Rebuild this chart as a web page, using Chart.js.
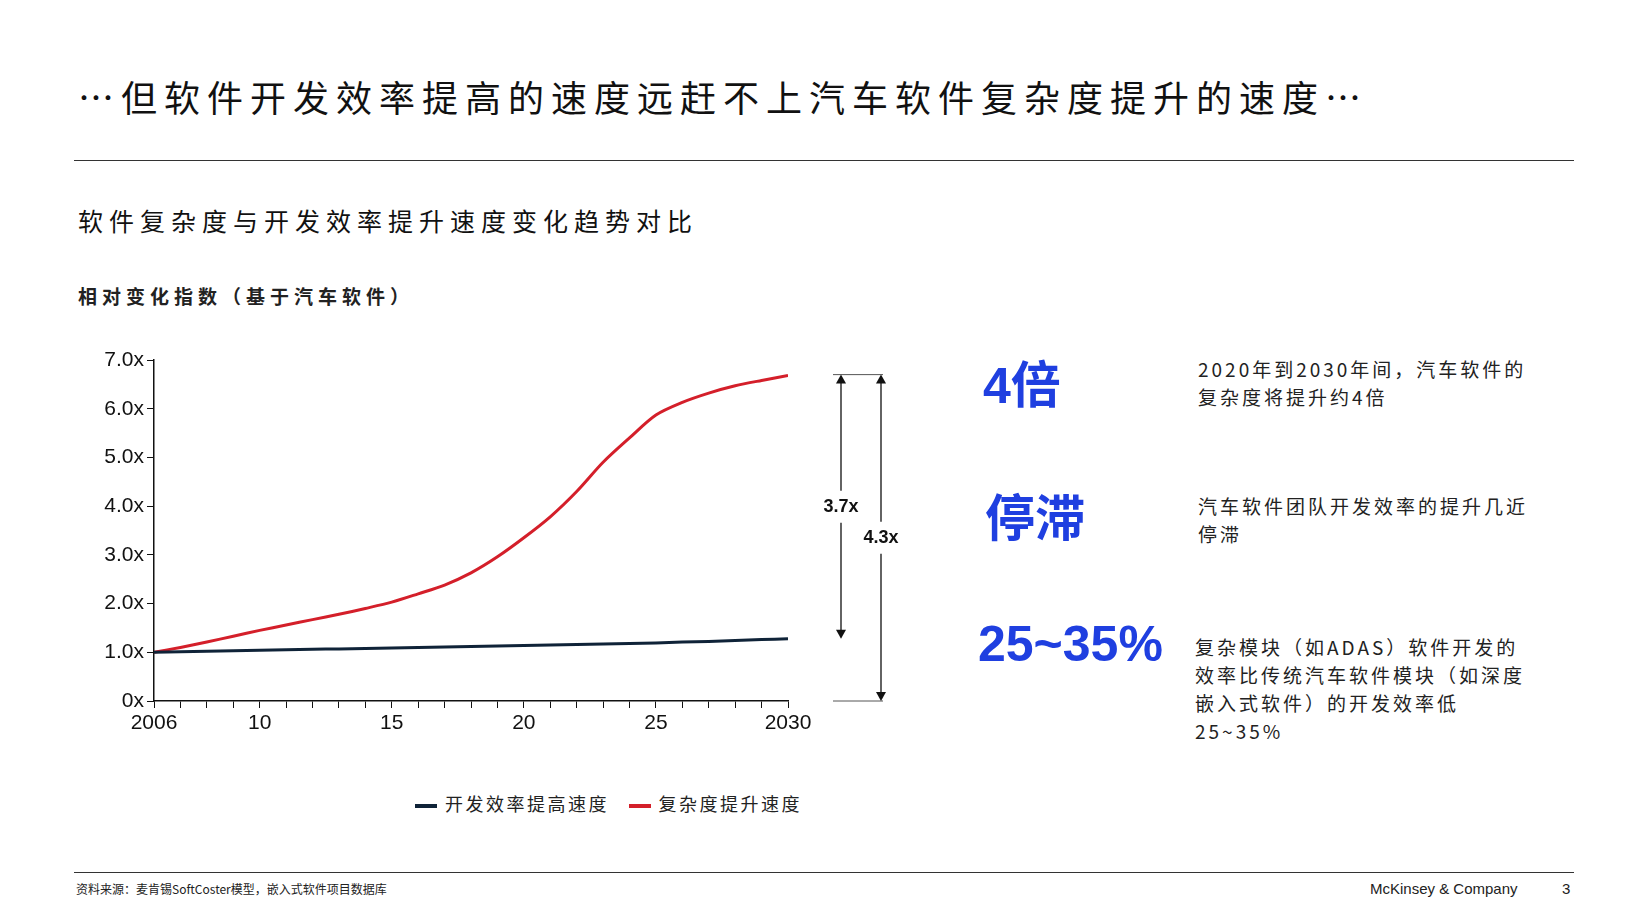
<!DOCTYPE html>
<html><head><meta charset="utf-8">
<script src="https://cdn.jsdelivr.net/npm/chart.js@4"></script>
<style>
body{margin:0;width:1640px;height:922px;background:#fff;position:relative;font-family:"Noto Sans CJK SC",sans-serif;overflow:hidden}
.a{position:absolute;white-space:nowrap}
.big{color:#1f3fe0;font-family:Arial,"Liberation Sans","Noto Sans CJK SC";font-weight:bold}
.txt{font-size:19px;line-height:28px;color:#222;white-space:normal;letter-spacing:3px}
</style></head><body>
<div class="a" style="left:78px;top:70px;font-size:36px;color:#111;letter-spacing:7px">…但软件开发效率提高的速度远赶不上汽车软件复杂度提升的速度…</div>
<div class="a" style="left:74px;top:160px;width:1500px;border-top:1px solid #333"></div>
<div class="a" style="left:78px;top:202px;font-size:25px;color:#111;letter-spacing:6px">软件复杂度与开发效率提升速度变化趋势对比</div>
<div class="a" style="left:78px;top:282px;font-size:19px;color:#222;font-weight:bold;letter-spacing:5px">相对变化指数（基于汽车软件）</div>
<div class="a" style="left:70px;top:320px;width:860px;height:440px"><canvas id="c"></canvas></div>
<div class="a" style="left:415px;top:790px;font-size:18px;color:#222;letter-spacing:2.5px"><span style="display:inline-block;width:22px;height:4px;background:#0f2338;vertical-align:middle;margin-right:8px"></span>开发效率提高速度&nbsp;&nbsp;&nbsp;<span style="display:inline-block;width:22px;height:4px;background:#d41f2a;vertical-align:middle;margin-right:8px"></span>复杂度提升速度</div>
<div class="a big" style="left:983px;top:345px;font-size:50px">4倍</div>
<div class="a big" style="left:985px;top:478px;font-size:50px">停滞</div>
<div class="a big" style="left:978px;top:615px;font-size:50px">25~35%</div>
<div class="a txt" style="left:1198px;top:355px;width:340px">2020年到2030年间，汽车软件的复杂度将提升约4倍</div>
<div class="a txt" style="left:1198px;top:492px;width:340px">汽车软件团队开发效率的提升几近停滞</div>
<div class="a txt" style="left:1195px;top:633px;width:335px">复杂模块（如ADAS）软件开发的效率比传统汽车软件模块（如深度嵌入式软件）的开发效率低25~35%</div>
<div class="a" style="left:74px;top:872px;width:1500px;border-top:1px solid #333"></div>
<div class="a" style="left:76px;top:880px;font-size:12px;color:#222">资料来源：麦肯锡SoftCoster模型，嵌入式软件项目数据库</div>
<div class="a" style="left:1370px;top:880px;font-size:15px;color:#222;font-family:Arial,'Liberation Sans'">McKinsey &amp; Company</div>
<div class="a" style="left:1562px;top:880px;font-size:15px;color:#222;font-family:Arial,'Liberation Sans'">3</div>
<script>
const years=[2006,2007,2008,2009,2010,2011,2012,2013,2014,2015,2016,2017,2018,2019,2020,2021,2022,2023,2024,2025,2026,2027,2028,2029,2030];
const efficiency=[1.0,1.01,1.02,1.03,1.04,1.05,1.06,1.07,1.08,1.09,1.10,1.11,1.12,1.13,1.14,1.15,1.16,1.17,1.18,1.19,1.21,1.22,1.24,1.26,1.28];
const complexity=[1.0,1.1,1.21,1.33,1.45,1.56,1.67,1.78,1.9,2.03,2.2,2.38,2.63,2.96,3.35,3.78,4.3,4.9,5.4,5.87,6.13,6.32,6.47,6.58,6.68];
const xLabels={2006:"2006",2010:"10",2015:"15",2020:"20",2025:"25",2030:"2030"};
const yLabels=["0x","1.0x","2.0x","3.0x","4.0x","5.0x","6.0x","7.0x"];
const arrows={plugin:{id:'arr',afterDraw(ch){const c=ch.ctx,y=ch.scales.y,r=ch.chartArea.right;
 function arrow(x,v1,v2,label){const y1=y.getPixelForValue(v1),y2=y.getPixelForValue(v2);c.save();c.strokeStyle='#111';c.fillStyle='#111';c.lineWidth=1.3;
  const mid=(y1+y2)/2;c.beginPath();c.moveTo(x,y1+8);c.lineTo(x,mid-16);c.moveTo(x,mid+16);c.lineTo(x,y2-8);c.stroke();
  c.beginPath();c.moveTo(x,y1);c.lineTo(x-5,y1+9);c.lineTo(x+5,y1+9);c.fill();
  c.beginPath();c.moveTo(x,y2);c.lineTo(x-5,y2-9);c.lineTo(x+5,y2-9);c.fill();
  c.font='bold 18px Arial';c.textAlign='center';c.textBaseline='middle';c.fillText(label,x,mid);c.restore();}
 c.save();c.strokeStyle='#555';c.lineWidth=1;c.beginPath();const t=y.getPixelForValue(6.7),b=y.getPixelForValue(0);
 c.moveTo(r+45,t);c.lineTo(r+95,t);c.moveTo(r+45,b);c.lineTo(r+95,b);c.stroke();c.restore();
 arrow(r+53,6.7,1.28,'3.7x');arrow(r+93,6.7,0,'4.3x');}}};
new Chart(document.getElementById('c'),{type:'line',
data:{datasets:[
{label:'开发效率提高速度',data:years.map((x,i)=>({x,y:efficiency[i]})),borderColor:'#0f2338',borderWidth:3,pointRadius:0,tension:0.3},
{label:'复杂度提升速度',data:years.map((x,i)=>({x,y:complexity[i]})),borderColor:'#d41f2a',borderWidth:3,pointRadius:0,tension:0.3}]},
options:{responsive:true,maintainAspectRatio:false,animation:false,
layout:{padding:{top:40,right:142,bottom:19,left:0}},
plugins:{legend:{display:false},tooltip:{enabled:false}},
scales:{
x:{type:'linear',min:2006,max:2030,afterBuildTicks(s){s.ticks=years.map(v=>({value:v}));},afterFit(s){s.height=40;},
 grid:{drawOnChartArea:false,tickLength:7,color:'#111'},border:{color:'#111',width:1.5},
 ticks:{autoSkip:false,maxRotation:0,color:'#111',font:{size:21,family:'Arial'},callback:v=>xLabels[v]||''}},
y:{min:0,max:7,afterFit(s){s.width=84;},grid:{drawOnChartArea:false,tickLength:7,color:'#111'},border:{color:'#111',width:1.5},
 ticks:{stepSize:1,color:'#111',font:{size:21,family:'Arial'},callback:v=>yLabels[v]}}}},
plugins:[arrows.plugin]});
</script></body></html>
